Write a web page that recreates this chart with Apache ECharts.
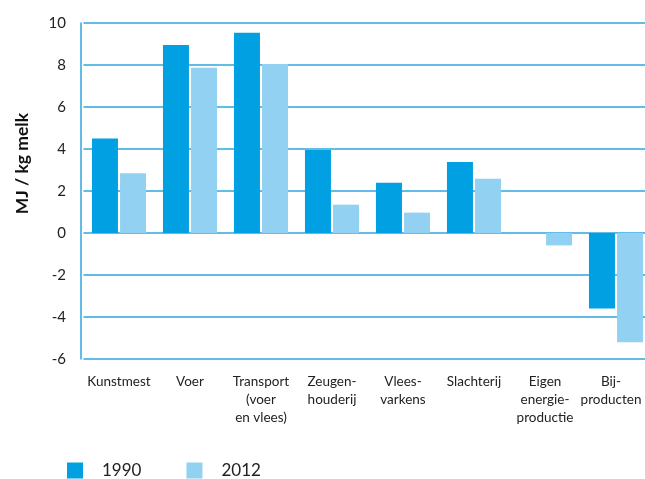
<!DOCTYPE html>
<html>
<head>
<meta charset="utf-8">
<script src="https://cdn.jsdelivr.net/npm/echarts@6/dist/echarts.min.js"></script>
<style>
  html, body { margin: 0; padding: 0; background: #fff; }
  #chart { width: 645px; height: 479px; }
</style>
</head>
<body>
<div id="chart"></div>
<script>
// Energy use per kg of milk by chain stage, 1990 vs 2012
const categories = [
  'Kunstmest', 'Voer', 'Transport\n(voer\nen vlees)', 'Zeugen-\nhouderij',
  'Vlees-\nvarkens', 'Slachterij', 'Eigen\nenergie-\nproductie', 'Bij-\nproducten'
];
const values1990 = [4.5, 8.95, 9.53, 3.95, 2.39, 3.38, 0, -3.6];
const values2012 = [2.85, 7.87, 8.05, 1.35, 0.97, 2.58, -0.59, -5.2];
const seriesNames = ['1990', '2012'];
const yTicks = { min: -6, max: 10, interval: 2 };
const yAxisTitle = 'MJ / kg melk';

const FONT = 'Lato, "Noto Sans", sans-serif';
const GRID_BLUE = '#2fa6dd';

// the last label sits a little left so it stays inside the page edge
const categoryData = categories.map((c, i) =>
  i === categories.length - 1
    ? { value: c, textStyle: { padding: [0, 10, 0, 0] } }
    : c
);

const chart = echarts.init(document.getElementById('chart'), null, { renderer: 'canvas' });
chart.setOption({
  animation: false,
  textStyle: { fontFamily: FONT },
  grid: {
    left: 83.5, width: 568, top: 23, height: 336,
    containLabel: false, outerBoundsMode: 'none'
  },
  legend: {
    data: seriesNames,
    left: 67,
    top: 462,
    padding: 0,
    itemWidth: 16,
    itemHeight: 16,
    itemGap: 45,
    icon: 'rect',
    textStyle: { fontFamily: FONT, fontSize: 17, color: '#222', padding: [0, 0, 0, 14] }
  },
  graphic: [{
    type: 'text',
    left: 13,
    top: 113,
    rotation: Math.PI / 2,
    style: {
      text: yAxisTitle,
      font: 'bold 17.5px ' + FONT,
      fill: '#111'
    }
  }],
  xAxis: {
    type: 'category',
    data: categoryData,
    axisLine: { show: false },
    axisTick: { show: false },
    axisLabel: {
      interval: 0,
      margin: 14,
      color: '#222',
      fontSize: 13.5,
      lineHeight: 18,
      fontFamily: FONT
    }
  },
  yAxis: {
    type: 'value',
    min: yTicks.min,
    max: yTicks.max,
    interval: yTicks.interval,
    offset: 2.5,
    axisLine: { show: true, lineStyle: { color: GRID_BLUE, width: 1.5 } },
    axisTick: { show: false },
    axisLabel: { color: '#222', fontSize: 15, margin: 15, fontFamily: FONT },
    splitLine: { show: true, lineStyle: { color: GRID_BLUE, width: 1.5 } }
  },
  series: [
    {
      name: seriesNames[0],
      type: 'bar',
      data: values1990,
      barWidth: 26,
      barGap: '8%',
      itemStyle: { color: '#00a0e2' }
    },
    {
      name: seriesNames[1],
      type: 'bar',
      data: values2012,
      barWidth: 26,
      barGap: '8%',
      itemStyle: { color: '#93d1f3' }
    }
  ]
});
</script>
</body>
</html>
